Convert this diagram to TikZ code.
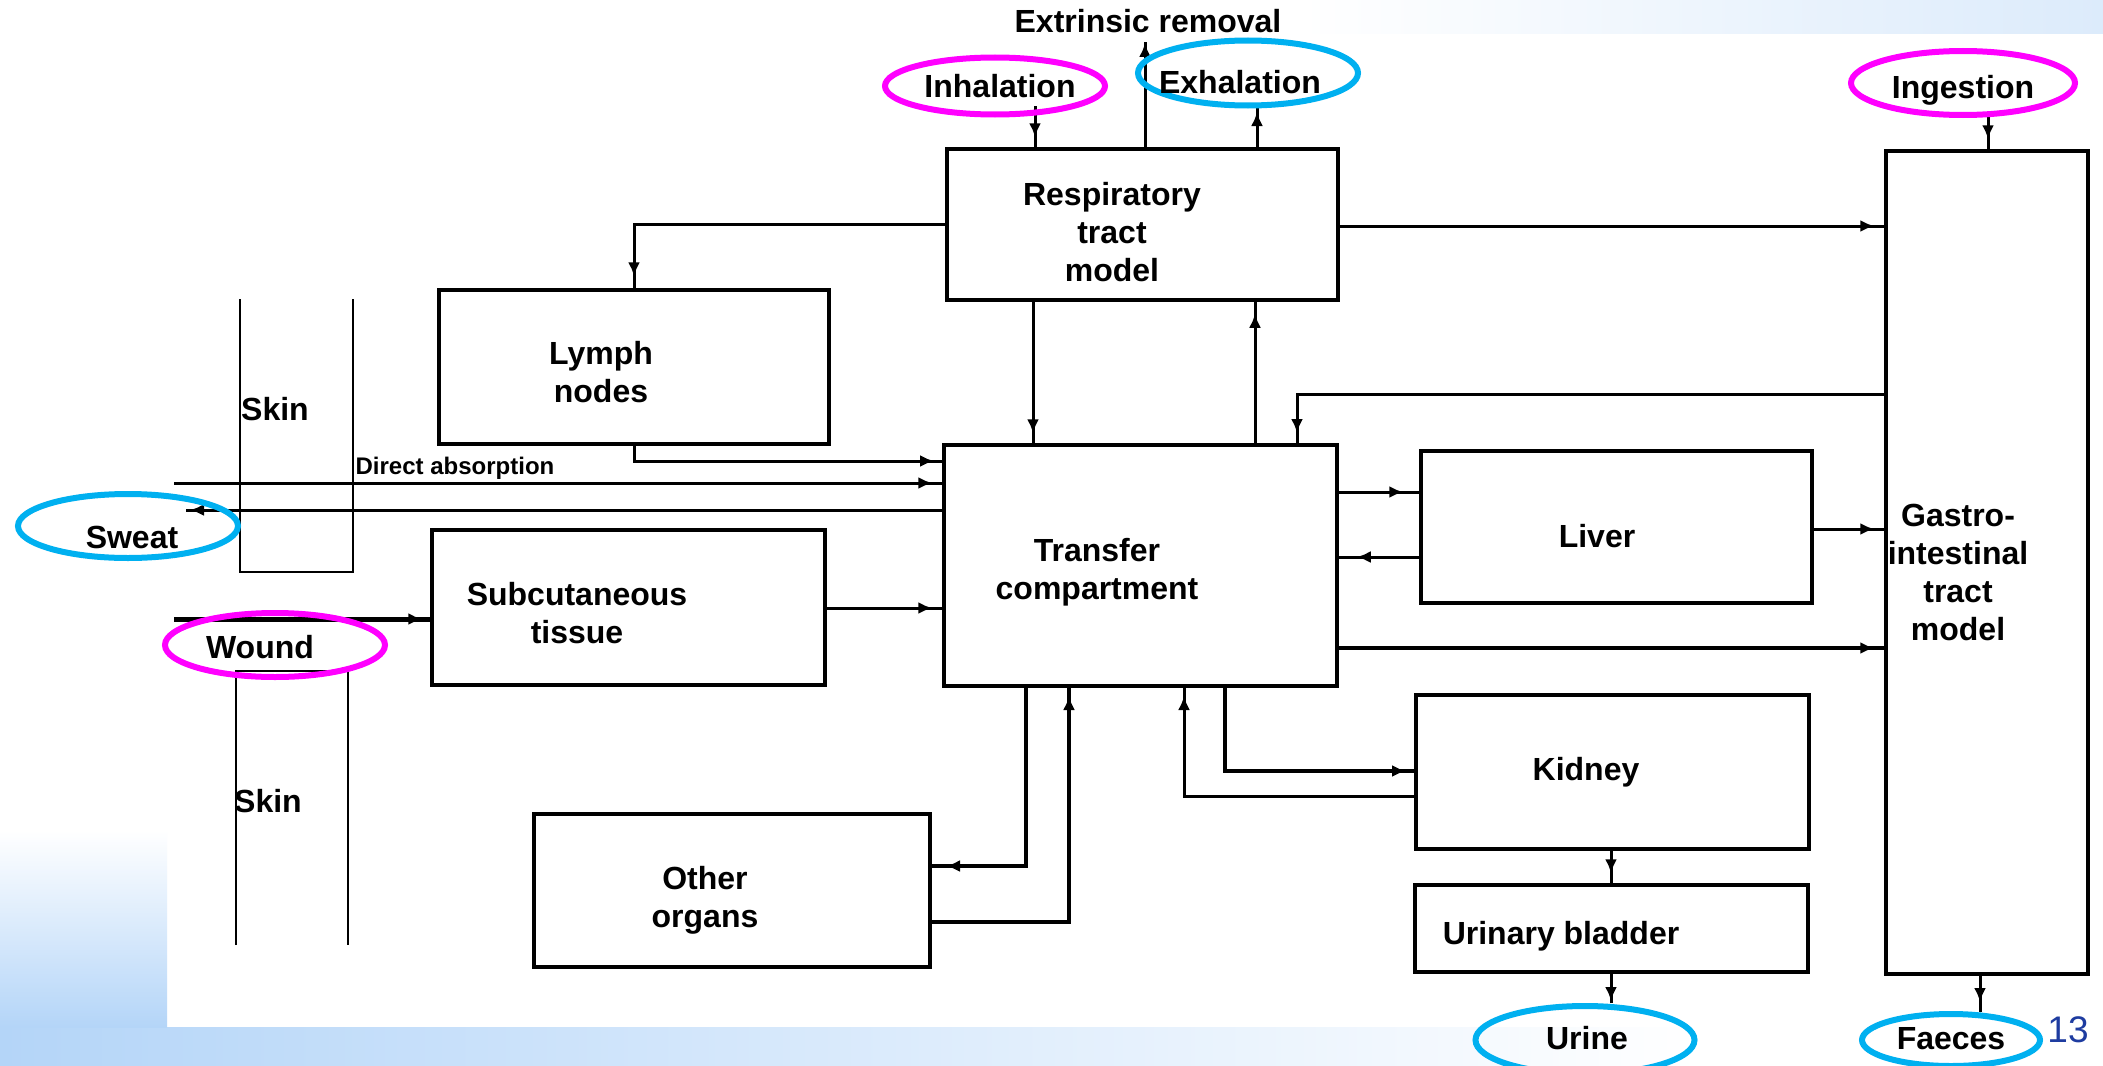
\documentclass[tikz,border=0pt]{standalone}
\usepackage{fontspec}
\setmainfont{Liberation Sans}
\usetikzlibrary{arrows.meta,decorations.markings,shapes.geometric,fit}
\definecolor{mag}{RGB}{255,0,255}
\definecolor{cyn}{RGB}{0,176,240}
\definecolor{bgblue}{RGB}{180,213,248}
\definecolor{tblue}{RGB}{220,235,251}
\definecolor{numblue}{RGB}{30,60,160}
\begin{document}
\begin{tikzpicture}[x=1pt,y=-1pt,
  box/.style={draw, line width=3.5pt, inner sep=0pt},
  lbl/.style={font=\bfseries\fontsize{32}{38}\selectfont, align=center, inner sep=0pt},
  olbl/.style={font=\bfseries\fontsize{32}{38}\selectfont, inner sep=0pt, anchor=base},
  small/.style={font=\bfseries\fontsize{24}{28}\selectfont, inner sep=0pt},
  oval/.style={ellipse, draw, line width=6pt, inner sep=0pt},
  conn/.style={line width=3pt},
  arr/.style={postaction={decorate}, decoration={markings, mark=at position -#1 with {\arrow{Latex[length=14pt,width=12pt]}}}},
  arr/.default=10pt]
\useasboundingbox (0,0) rectangle (2103,1065);
% background
\fill[white] (0,0) rectangle (2103,1065);
\shade[left color=bgblue, right color=white] (0,1027) rectangle (1700,1065);
\shade[top color=white, bottom color=bgblue] (0,830) rectangle (167,1027);
\shade[left color=white, right color=tblue] (1300,0) rectangle (2103,34);

% boxes
\node[box, fit={(947,149) (1338,300)}] (resp) {};
\node[box, fit={(439,290) (829,444)}] (lymph) {};
\node[box, fit={(944,445) (1337,686)}] (trans) {};
\node[box, fit={(432,530) (825,685)}] (subc) {};
\node[box, fit={(534,814) (930,967)}] (other) {};
\node[box, fit={(1421,451) (1812,603)}] (liver) {};
\node[box, fit={(1416,695) (1809,849)}] (kidney) {};
\node[box, fit={(1415,885) (1808,972)}] (bladder) {};
\node[box, fit={(1886,151) (2088,974)}] (gi) {};

% box labels
\node[lbl] (resp-t) at (1112,232) {Respiratory\\tract\\model};
\node[lbl] (lymph-t) at (601,372) {Lymph\\nodes};
\node[lbl] (trans-t) at (1097,572) {Transfer\\compartment};
\node[lbl] (subc-t) at (577,613) {Subcutaneous\\tissue};
\node[lbl] (other-t) at (705,900) {Other\\organs};
\node[lbl] (liver-t) at (1597,536) {Liver};
\node[lbl] (kidney-t) at (1586,772) {Kidney};
\node[lbl] (bladder-t) at (1561,936) {Urinary bladder};
\node[lbl] (gi-t) at (1958,572) {Gastro-\\intestinal\\tract\\model};
\node[lbl] (extr-t) at (1148,21) {Extrinsic removal};
\node[lbl] (skin1) at (275,409) {Skin};
\node[lbl] (skin2) at (268,801) {Skin};
\node[small] (da-t) at (455,468) {Direct absorption};
\node[font=\fontsize{37}{40}\selectfont, text=numblue, inner sep=0pt] (pg) at (2068,1030) {13};

% skin strips
\draw[line width=2.5pt] (240,299) -- (240,572) -- (353,572) -- (353,299);
\draw[line width=2.5pt] (236,945) -- (236,671) -- (348,671) -- (348,945);

% connector coordinates
\coordinate (inhOut) at (1035,106);
\coordinate (exhIn) at (1257,108);
\coordinate (extr) at (1145,42);
\coordinate (ingOut) at (1988,114);
\coordinate (rg) at (1338,226);
\coordinate (rl) at (947,224);
\coordinate (lt) at (944,461);
\coordinate (da) at (174,483);
\coordinate (sw) at (186,510);
\coordinate (wd) at (174,619);
\coordinate (st) at (825,608);
\coordinate (rt) at (1033,300);
\coordinate (tr) at (1255,445);
\coordinate (gt) at (1886,394);
\coordinate (gt2) at (1297,445);
\coordinate (tl) at (1337,492);
\coordinate (lvt) at (1421,557);
\coordinate (lg) at (1812,529);
\coordinate (tg) at (1337,648);
\coordinate (tk) at (1225,686);
\coordinate (tk2) at (1416,771);
\coordinate (kt) at (1416,796);
\coordinate (kt2) at (1184,686);
\coordinate (to) at (1026,686);
\coordinate (to2) at (930,866);
\coordinate (ot) at (930,922);
\coordinate (ot2) at (1069,686);
\coordinate (kb) at (1611,849);
\coordinate (bu) at (1611,972);
\coordinate (bu2) at (1611,1003);
\coordinate (gf) at (1980,974);
\coordinate (gf2) at (1980,1012);

% connectors
\draw[conn,arr=10pt] (inhOut) -- (inhOut |- resp.north);
\draw[conn,arr=4pt] (exhIn |- resp.north) -- (exhIn);
\draw[conn,arr=1pt] (extr |- resp.north) -- (extr);
\draw[conn,arr=10pt] (ingOut) -- (ingOut |- gi.north);
\draw[conn,arr] (rg) -- (rg -| gi.west);
\draw[conn,arr=12pt] (rl) -| (lymph.north);
\draw[conn,arr] (lymph.south) |- (lt);
\draw[conn,arr=10pt] (da) -- (da -| trans.west);
\draw[conn,arr=4pt] (sw -| trans.west) -- (sw);
\draw[line width=5pt,arr=8pt] (wd) -- (wd -| subc.west);
\draw[conn,arr=10pt] (st) -- (st -| trans.west);
\draw[conn,arr=10pt] (rt) -- (rt |- trans.north);
\draw[conn,arr=12pt] (tr) -- (tr |- resp.south);
\draw[conn,arr=12pt] (gt) -| (gt2);
\draw[conn,arr=16pt] (tl) -- (tl -| liver.west);
\draw[conn,arr=18pt] (lvt) -- (lvt -| trans.east);
\draw[conn,arr] (lg) -- (lg -| gi.west);
\draw[line width=4pt,arr] (tg) -- (tg -| gi.west);
\draw[line width=4pt,arr=10pt] (tk) |- (tk2);
\draw[conn,arr=10pt] (kt) -| (kt2);
\draw[line width=4pt,arr=16pt] (to) |- (to2);
\draw[line width=4pt,arr=10pt] (ot) -| (ot2);
\draw[conn,arr=10pt] (kb) -- (kb |- bladder.north);
\draw[conn,arr=2pt] (bu) -- (bu2);
\draw[conn,arr=10pt] (gf) -- (gf2);

% ovals
\node[oval, draw=mag, minimum width=220pt, minimum height=57pt] (inh) at (995,86) {};
\node[oval, draw=cyn, minimum width=220pt, minimum height=65pt] (exh) at (1248,73) {};
\node[oval, draw=mag, minimum width=224pt, minimum height=64pt] (ing) at (1963,83) {};
\node[oval, draw=cyn, minimum width=220pt, minimum height=64pt] (sweat) at (128,526) {};
\node[oval, draw=mag, minimum width=220pt, minimum height=64pt] (wound) at (275,645) {};
\node[oval, draw=cyn, minimum width=219pt, minimum height=68pt] (urine) at (1585,1040) {};
\node[oval, draw=cyn, minimum width=178pt, minimum height=52pt] (faeces) at (1951,1040) {};
\node[olbl] (inh-t) at (1000,97) {Inhalation};
\node[olbl] (exh-t) at (1240,93) {Exhalation};
\node[olbl] (ing-t) at (1963,98) {Ingestion};
\node[olbl] (sweat-t) at (132,548) {Sweat};
\node[olbl] (wound-t) at (260,658) {Wound};
\node[olbl] (urine-t) at (1587,1049) {Urine};
\node[olbl] (faeces-t) at (1951,1049) {Faeces};
\end{tikzpicture}
\end{document}
